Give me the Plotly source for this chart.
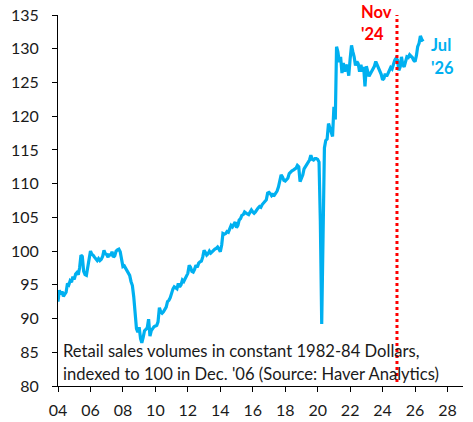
import pandas as pd
import plotly.graph_objects as go

# Monthly retail sales volumes index (Dec '06 = 100), Jan 2004 - Jul 2026
start_month = "2004-01-01"
retail_sales = [
    # 2004
    92.5, 94.2, 93.6, 94.0, 93.3, 93.6, 93.9, 95.2, 95.0, 95.6, 95.4, 96.2,
    # 2005
    95.8, 96.6, 96.8, 96.5, 97.5, 99.4, 99.2, 97.0, 96.5, 96.4, 97.7, 98.6,
    # 2006
    100.0, 99.5, 99.4, 99.1, 98.8, 98.6, 98.9, 98.6, 98.8, 99.2, 100.1, 99.6,
    # 2007
    99.5, 99.1, 99.6, 99.3, 99.9, 99.1, 99.3, 100.0, 100.2, 100.3, 99.9, 98.4,
    # 2008
    97.7, 97.8, 97.5, 97.2, 96.8, 96.4, 95.5, 94.9, 93.2, 90.2, 88.5, 88.0,
    # 2009
    88.7, 87.0, 86.4, 87.2, 88.2, 88.4, 88.6, 89.9, 87.4, 88.2, 88.6, 88.8,
    # 2010
    88.9, 89.0, 89.5, 91.6, 91.0, 90.8, 91.0, 91.3, 91.7, 92.5, 92.7, 93.1,
    # 2011
    93.8, 94.4, 94.7, 94.6, 94.4, 95.2, 94.7, 95.0, 95.7, 95.5, 96.0, 96.2,
    # 2012
    96.7, 97.9, 97.6, 97.0, 96.9, 97.3, 97.9, 97.6, 98.2, 98.4, 98.5, 99.1,
    # 2013
    100.1, 99.8, 99.4, 99.6, 100.0, 99.7, 99.9, 100.2, 100.3, 100.4, 100.6, 100.3,
    # 2014
    99.9, 100.9, 102.6, 102.5, 102.6, 102.9, 102.8, 103.3, 103.8, 103.6, 104.0, 104.3,
    # 2015
    103.5, 103.8, 104.6, 104.8, 105.3, 105.4, 105.8, 105.6, 105.5, 105.4, 105.7, 106.1,
    # 2016
    105.8, 105.6, 105.8, 106.2, 106.4, 106.6, 106.5, 106.9, 107.1, 107.4, 107.6, 108.6,
    # 2017
    108.7, 108.5, 108.2, 108.4, 108.3, 108.6, 108.9, 109.5, 110.5, 111.3, 111.0, 110.5,
    # 2018
    110.4, 110.6, 110.8, 111.5, 111.8, 111.9, 112.0, 112.1, 112.3, 112.7, 112.5, 110.3,
    # 2019
    110.8, 111.3, 112.2, 112.5, 112.8, 113.1, 113.5, 114.2, 113.6, 113.5, 113.7, 113.7,
    # 2020
    113.6, 113.2, 104.5, 89.2, 106.0, 115.3, 116.4, 116.6, 118.9, 118.3, 117.4, 117.0,
    # 2021
    121.4, 119.5, 130.3, 129.5, 128.0, 128.8, 126.4, 127.9, 126.6, 127.6, 127.3, 126.0,
    # 2022
    128.5, 130.5, 129.6, 128.8, 127.5, 128.1, 127.8, 126.6, 127.6, 126.6, 127.3, 124.4,
    # 2023
    127.4, 126.5, 125.9, 126.3, 126.6, 126.9, 127.4, 128.1, 127.6, 127.3, 126.8, 126.2,
    # 2024
    125.4, 125.6, 126.3, 125.9, 126.3, 126.8, 127.2, 127.0, 127.7, 128.3, 128.6, 128.3,
    # 2025
    126.8, 127.3, 128.8, 127.6, 127.3, 128.3, 128.8, 128.7, 129.1, 128.9, 128.7, 128.3,
    # 2026
    128.1, 129.0, 130.3, 130.8, 131.9, 131.4, 131.1,
]
months = pd.date_range(start_month, periods=len(retail_sales), freq="MS")

marker_date = "2024-11-20"   # Nov '24 reference line
y_ticks = list(range(80, 136, 5))
note_lines = [
    "Retail sales volumes in constant 1982-84 Dollars,",
    "indexed to 100 in Dec. '06 (Source: Haver Analytics)",
]
nov_label = ["Nov", "'24"]
jul_label = ["Jul", "'26"]

BLUE = "#00B0F0"
RED = "#FF0000"
FONT = "Lato"

fig = go.Figure()
fig.add_trace(go.Scatter(
    x=months, y=retail_sales, mode="lines",
    line=dict(color=BLUE, width=3.2), showlegend=False, hoverinfo="x+y",
))

fig.add_shape(type="line", xref="x", yref="y",
              x0=marker_date, x1=marker_date, y0=80.6, y1=135.3,
              line=dict(color=RED, width=3, dash="dot"))

# Plot area in page pixels: x 58-463, y 15-386 (body margin removed below)
W, H = 473, 422
ML, MR, MT, MB = 58, 10, 15, 36
PW, PH = W - ML - MR, H - MT - MB


def px_to_paper(px, py):
    return (px - ML) / PW, (H - MB - py) / PH


def add_line_label(text, left_px, baseline_px, size, color, bold=False):
    cy = baseline_px - 0.387 * size
    x, y = px_to_paper(left_px, cy)
    fig.add_annotation(
        text=f"<b>{text}</b>" if bold else text,
        xref="paper", yref="paper", x=x, y=y,
        xanchor="left", yanchor="middle", showarrow=False,
        font=dict(family=FONT, size=size, color=color),
    )


add_line_label(note_lines[0], 61.0, 357.7, 16.6, "#1a1a1a")
add_line_label(note_lines[1], 61.0, 380.0, 16.6, "#1a1a1a")
add_line_label(nov_label[0], 358.5, 18.3, 16.5, RED, bold=True)
add_line_label(nov_label[1], 358.5, 40.7, 16.5, RED, bold=True)
add_line_label(jul_label[0], 429.0, 51.7, 16.5, BLUE, bold=True)
add_line_label(jul_label[1], 429.0, 74.0, 16.5, BLUE, bold=True)

fig.update_xaxes(
    type="date", range=["2004-01-01", "2028-12-15"],
    tick0="2004-01-01", dtick="M24", tickformat="%y",
    showline=True, linecolor="#000000", linewidth=1,
    ticks="outside", ticklen=5, tickcolor="#000000", tickwidth=1,
    showgrid=False, zeroline=False, ticklabelstandoff=5, automargin=False,
    tickfont=dict(family=FONT, size=16, color="#1a1a1a"),
)
fig.update_yaxes(
    range=[80, 135], tickvals=y_ticks,
    showline=True, linecolor="#000000", linewidth=1,
    ticks="outside", ticklen=5, tickcolor="#000000", tickwidth=1,
    showgrid=False, zeroline=False, ticklabelstandoff=10, automargin=False,
    tickfont=dict(family=FONT, size=16, color="#1a1a1a"),
)
fig.update_layout(
    width=W, height=H,
    margin=dict(l=ML, r=MR, t=MT, b=MB, pad=0),
    paper_bgcolor="white", plot_bgcolor="white",
    showlegend=False,
)
fig.write_html(
    "out.html",
    config={"displayModeBar": False},
    post_script="document.body.style.margin='0px';document.body.style.overflow='hidden';",
)
